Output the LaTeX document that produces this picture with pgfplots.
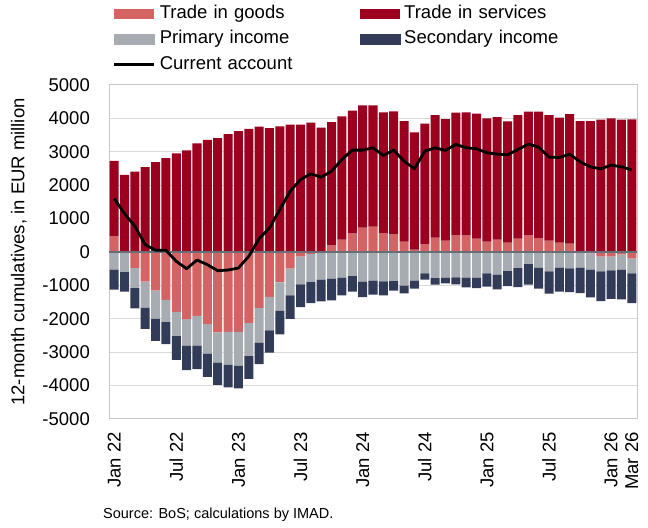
\documentclass[border=0pt]{standalone}
\usepackage{pgfplots}
\pgfplotsset{compat=1.18}
\usepackage{pgfplotstable}
\usepackage{fontspec}
\setmainfont{Liberation Sans}
\definecolor{goodsc}{RGB}{212,99,99}
\definecolor{servc}{RGB}{155,0,30}
\definecolor{primc}{RGB}{166,172,178}
\definecolor{secdc}{RGB}{50,60,88}
\definecolor{gridc}{RGB}{217,217,217}
\definecolor{boxc}{RGB}{200,200,200}
\definecolor{zeroc}{RGB}{105,110,118}

% goods split into positive (gp) and negative (gn) parts
\pgfplotstableread{
x gp gn sv pr se ca
0 470 0 2260 -530 -600 1600
1 30 0 2280 -600 -590 1150
2 0 -480 2410 -600 -610 770
3 0 -890 2540 -780 -630 220
4 0 -1160 2690 -840 -660 50
5 0 -1430 2810 -670 -660 50
6 0 -1790 2950 -730 -710 -280
7 0 -2010 3040 -790 -740 -500
8 0 -1910 3250 -890 -710 -240
9 0 -2160 3360 -880 -700 -380
10 0 -2410 3410 -900 -670 -560
11 0 -2390 3530 -990 -670 -540
12 0 -2400 3620 -1010 -670 -480
13 0 -2130 3690 -990 -680 -130
14 0 -1680 3750 -1030 -650 400
15 0 -1340 3710 -1010 -660 720
16 0 -910 3760 -850 -710 1270
17 0 -500 3810 -800 -700 1820
18 0 -140 3810 -830 -680 2170
19 0 -60 3870 -840 -630 2340
20 0 -20 3720 -810 -650 2240
21 200 0 3690 -800 -650 2420
22 370 0 3690 -770 -530 2770
23 560 0 3670 -720 -470 3050
24 730 0 3660 -890 -460 3050
25 760 0 3630 -860 -420 3120
26 570 0 3610 -880 -420 2890
27 540 0 3670 -870 -290 3050
28 310 0 3610 -1010 -230 2720
29 70 0 3510 -860 -240 2490
30 230 0 3610 -640 -190 3020
31 430 0 3670 -780 -200 3120
32 340 0 3640 -770 -170 3040
33 500 0 3670 -760 -210 3220
34 500 0 3680 -770 -290 3120
35 400 0 3740 -770 -310 3090
36 310 0 3690 -640 -400 2970
37 370 0 3670 -680 -440 2930
38 280 0 3630 -570 -450 2910
39 400 0 3700 -480 -570 3070
40 500 0 3700 -360 -620 3230
41 420 0 3780 -470 -630 3140
42 340 0 3760 -580 -670 2840
43 280 0 3740 -470 -720 2830
44 250 0 3880 -490 -710 2930
45 20 0 3900 -470 -760 2700
46 0 -40 3920 -490 -830 2550
47 0 -140 3960 -440 -890 2490
48 0 -140 4000 -410 -850 2600
49 0 -80 3960 -450 -890 2550
50 0 -200 3970 -440 -890 2460
}\data

\pgfplotsset{
  base/.style={
    scale only axis, width=528bp, height=334bp,
    xmin=-0.5, xmax=50.5, ymin=-5000, ymax=5000,
    at={(109bp,109bp)}, anchor=south west,
    ybar stacked, bar width=0.87, reverse stacked plots=false,
  },
}

\begin{document}
\begin{tikzpicture}[font=\fontsize{18.5bp}{22bp}\selectfont]
\path[use as bounding box] (0,0) rectangle (648bp,528bp);
\begin{axis}[base,
  axis line style={boxc, line width=1bp},
  ytick={-5000,-4000,-3000,-2000,-1000,0,1000,2000,3000,4000,5000},
  yticklabels={-5000,-4000,-3000,-2000,-1000,0,1000,2000,3000,4000,5000},
  ymajorgrids, major grid style={gridc, line width=1bp},
  major tick length=0pt, tick style={draw=none},
  xtick={0,6,12,18,24,30,36,42,48,50},
  xticklabels={Jan 22,Jul 22,Jan 23,Jul 23,Jan 24,Jul 24,Jan 25,Jul 25,Jan 26,Mar 26},
  xticklabel style={yshift=-13bp, rotate=90, anchor=east, inner sep=0pt},
  yticklabel style={xshift=-19bp, anchor=east, inner sep=0pt},
  ylabel={12-month cumulatives, in EUR million},
  every axis y label/.style={at={(axis description cs:-0.1705,0.5)}, rotate=90, anchor=center},
  legend columns=2,
  legend cell align=left,
  legend style={at={(axis description cs:0.0076,1.2386)}, anchor=north west,
    draw=none, fill=none, inner sep=0pt, outer sep=0pt,
    column sep=4bp, row sep=8.5bp,
    nodes={text width=196bp, text height=13bp, text depth=4bp, inner sep=0pt, anchor=west}},
]
\addplot[fill=goodsc, draw=none,
  legend image code/.code={\fill[goodsc] (0bp,-5bp) rectangle (40bp,5bp);}]
  table[x=x, y=gp] {\data};
\addlegendentry{Trade in goods}
\addplot[fill=servc, draw=none,
  legend image code/.code={\fill[servc] (0bp,-5bp) rectangle (40bp,5bp);}]
  table[x=x, y=sv] {\data};
\addlegendentry{Trade in services}
\addlegendimage{legend image code/.code={\fill[primc] (0bp,-5bp) rectangle (40bp,5bp);}}
\addlegendentry{Primary income}
\addlegendimage{legend image code/.code={\fill[secdc] (0bp,-5bp) rectangle (40bp,5bp);}}
\addlegendentry{Secondary income}
\addlegendimage{legend image code/.code={\draw[black, line width=2.8bp] (0bp,0bp) -- (40bp,0bp);}}
\addlegendentry{Current account}
\end{axis}
\begin{axis}[base, hide axis]
\addplot[fill=goodsc, draw=none] table[x=x, y=gn] {\data};
\addplot[fill=primc, draw=none] table[x=x, y=pr] {\data};
\addplot[fill=secdc, draw=none] table[x=x, y=se] {\data};
\draw[zeroc, line width=1.5bp] (axis cs:-0.5,0) -- (axis cs:50.5,0);
\addplot[black, line width=2.8bp, sharp plot, stack plots=false, no marks, line join=round]
  table[x=x, y=ca] {\data};
\end{axis}
\node[anchor=base west, inner sep=0pt, font=\fontsize{14.5bp}{17bp}\selectfont] at (103bp,10bp) {Source: BoS; calculations by IMAD.};
\end{tikzpicture}
\end{document}
